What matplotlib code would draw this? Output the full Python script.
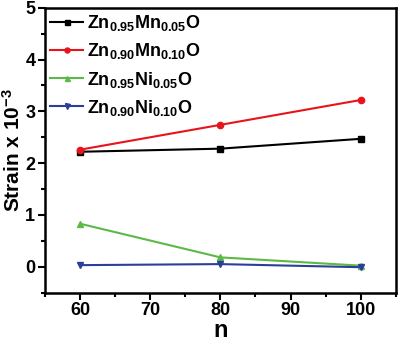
import matplotlib
matplotlib.use('Agg')
import matplotlib.pyplot as plt
from matplotlib.ticker import MultipleLocator

plt.rcParams['font.family'] = 'Liberation Sans'
plt.rcParams['font.weight'] = 'bold'
plt.rcParams['mathtext.fontset'] = 'custom'
plt.rcParams['mathtext.rm'] = 'Liberation Sans:bold'
plt.rcParams['mathtext.bf'] = 'Liberation Sans:bold'
plt.rcParams['mathtext.default'] = 'bf'

# data
n = [60, 80, 100]
zn95_mn05 = [2.22, 2.28, 2.47]
zn90_mn10 = [2.26, 2.74, 3.22]
zn95_ni05 = [0.83, 0.18, 0.02]
zn90_ni10 = [0.03, 0.05, -0.01]

labels = ['Zn$_{0.95}$Mn$_{0.05}$O', 'Zn$_{0.90}$Mn$_{0.10}$O',
          'Zn$_{0.95}$Ni$_{0.05}$O', 'Zn$_{0.90}$Ni$_{0.10}$O']
colors = ['#000000', '#e8141c', '#5cb946', '#2a3f9a']
markers = ['s', 'o', '^', 'v']

fig = plt.figure(figsize=(4.0, 3.41), dpi=100)
ax = fig.add_axes([0.1125, 0.142, 0.877, 0.835])

series = [zn95_mn05, zn90_mn10, zn95_ni05, zn90_ni10]
for ys, c, m, lab in zip(series, colors, markers, labels):
    ax.plot(n, ys, color=c, marker=m, markersize=4.5, linewidth=1.5, label=lab)

ax.set_xlim(55, 105)
ax.set_ylim(-0.5, 5)
ax.xaxis.set_major_locator(MultipleLocator(10))
ax.xaxis.set_minor_locator(MultipleLocator(5))
ax.yaxis.set_major_locator(MultipleLocator(1))
ax.yaxis.set_minor_locator(MultipleLocator(0.5))
ax.tick_params(which='both', direction='out', top=False, right=False, width=1.5)
ax.tick_params(which='major', length=5, labelsize=13, pad=2)
ax.tick_params(which='minor', length=3)
for s in ax.spines.values():
    s.set_linewidth(1.8)

ax.set_xlabel('n', fontsize=17, fontweight='bold', labelpad=0)
ax.set_ylabel('Strain x 10$^{-3}$', fontsize=15, fontweight='bold', labelpad=1)

ax.legend(loc='upper left', frameon=False, fontsize=13, handlelength=1.8,
          handletextpad=0.25, labelspacing=0.45, borderaxespad=0.1,
          borderpad=0.2, markerscale=0.8)

fig.savefig('out.png', dpi=100)
